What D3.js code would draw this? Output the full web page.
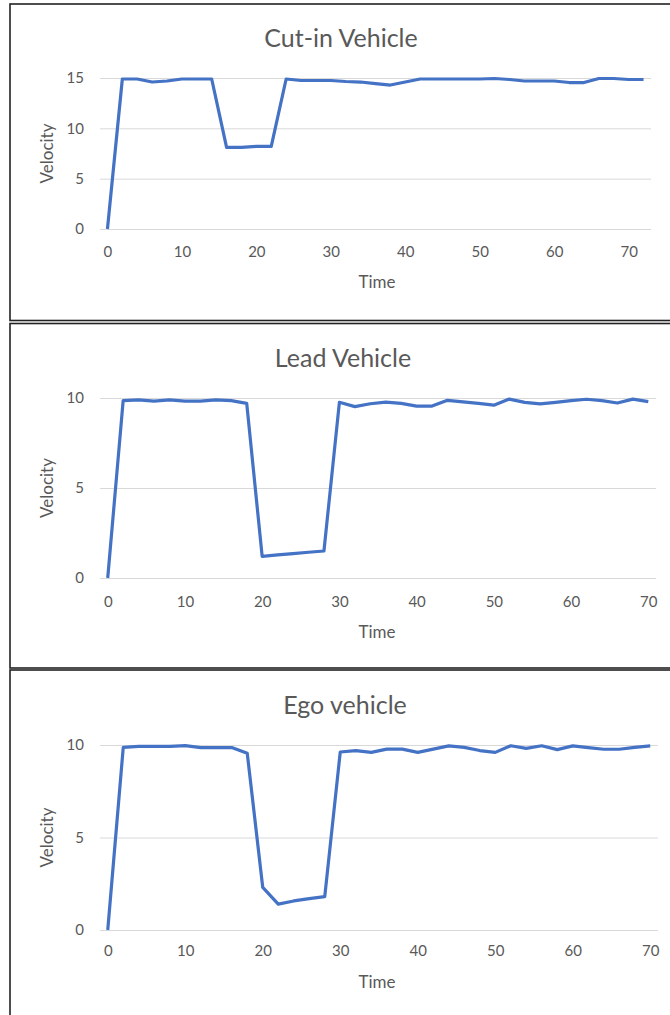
<!DOCTYPE html>
<html>
<head>
<meta charset="utf-8">
<script src="https://cdn.jsdelivr.net/npm/d3@7"></script>
<style>
  body { margin: 0; background: #fff; }
  svg text { font-family: Lato, "Open Sans", sans-serif; fill: #595959; }
</style>
</head>
<body>
<div id="my_dataviz"></div>
<script>
// time steps (s)
const timeCutIn = d3.range(0, 73, 2);   // 0..72
const timeLead = d3.range(0, 71, 2);    // 0..70
const timeEgo = d3.range(0, 71, 2);     // 0..70

// velocities
const cutInVelocity = [0, 14.9, 14.9, 14.6, 14.7, 14.9, 14.9, 14.9, 8.1, 8.1, 8.2, 8.2,
  14.9, 14.75, 14.75, 14.75, 14.65, 14.6, 14.45, 14.3, 14.6, 14.9, 14.9, 14.9, 14.9, 14.9,
  14.95, 14.85, 14.7, 14.7, 14.7, 14.55, 14.55, 14.95, 14.95, 14.85, 14.85];
const leadVelocity = [0, 9.85, 9.9, 9.83, 9.9, 9.83, 9.83, 9.9, 9.85, 9.7, 1.2, 1.28,
  1.35, 1.43, 1.5, 9.76, 9.52, 9.68, 9.77, 9.7, 9.55, 9.55, 9.87, 9.78, 9.7, 9.6,
  9.94, 9.76, 9.67, 9.76, 9.85, 9.93, 9.85, 9.72, 9.94, 9.8];
const egoVelocity = [0, 9.87, 9.93, 9.93, 9.93, 9.97, 9.86, 9.86, 9.86, 9.55, 2.3, 1.4,
  1.57, 1.7, 1.8, 9.62, 9.7, 9.6, 9.78, 9.78, 9.6, 9.78, 9.95, 9.87, 9.7, 9.6,
  9.96, 9.82, 9.96, 9.75, 9.95, 9.86, 9.77, 9.77, 9.87, 9.95];

const titles = ["Cut-in Vehicle", "Lead Vehicle", "Ego vehicle"];
const xTicks = [0, 10, 20, 30, 40, 50, 60, 70];
const yTicksCutIn = [0, 5, 10, 15];
const yTicksOther = [0, 5, 10];

// layout of each chart box on the page
const panels = [
  {title: titles[0], t: timeCutIn, v: cutInVelocity, xMax: 73, yMax: 15, yTicks: yTicksCutIn,
   box: [10, 4, 700, 316.5], plot: {left: 100, right: 651, top: 78, bottom: 229},
   titleX: 341, titleY: 47, tickPad: 17, timeY: 288},
  {title: titles[1], t: timeLead, v: leadVelocity, xMax: 71, yMax: 10, yTicks: yTicksOther,
   box: [10, 323.5, 700, 344.5], plot: {left: 100, right: 656, top: 398, bottom: 578},
   titleX: 343, titleY: 367, tickPad: 18, timeY: 638},
  {title: titles[2], t: timeEgo, v: egoVelocity, xMax: 71, yMax: 10, yTicks: yTicksOther,
   box: [10, 670, 700, 400], plot: {left: 100, right: 658, top: 745, bottom: 930},
   titleX: 345, titleY: 714, tickPad: 15, timeY: 988}
];

const svg = d3.select("#my_dataviz")
  .append("svg")
    .attr("width", 670)
    .attr("height", 1015);

panels.forEach(function(p) {
  // chart border
  svg.append("rect")
    .attr("x", p.box[0]).attr("y", p.box[1])
    .attr("width", p.box[2]).attr("height", p.box[3])
    .style("fill", "none")
    .style("stroke", "#222")
    .style("stroke-width", 1.6);

  const x = d3.scaleLinear().domain([-1, p.xMax]).range([p.plot.left, p.plot.right]);
  const y = d3.scaleLinear().domain([0, p.yMax]).range([p.plot.bottom, p.plot.top]);

  // gridlines + y labels
  const yAxis = svg.append("g")
    .attr("transform", `translate(${p.plot.left},0)`)
    .call(d3.axisLeft(y).tickValues(p.yTicks)
      .tickSize(-(p.plot.right - p.plot.left)).tickPadding(16));
  yAxis.select(".domain").remove();
  yAxis.selectAll("line").style("stroke", "#d9d9d9");
  yAxis.selectAll("text").style("font-size", "15px");

  // x labels
  const xAxis = svg.append("g")
    .attr("transform", `translate(0,${p.plot.bottom})`)
    .call(d3.axisBottom(x).tickValues(xTicks).tickSize(0).tickPadding(p.tickPad));
  xAxis.select(".domain").remove();
  xAxis.selectAll("text").style("font-size", "15px");

  // the line
  const data = p.t.map(function(d, i) { return [d, p.v[i]]; });
  svg.append("path")
    .datum(data)
    .attr("d", d3.line().x(function(d) { return x(d[0]); }).y(function(d) { return y(d[1]); }))
    .style("fill", "none")
    .style("stroke", "#4472c4")
    .style("stroke-width", 3.2)
    .style("stroke-linejoin", "round");

  // title
  svg.append("text")
    .attr("x", p.titleX).attr("y", p.titleY)
    .style("text-anchor", "middle")
    .style("font-size", "25px")
    .text(p.title);

  // axis titles
  svg.append("text")
    .attr("x", 377).attr("y", p.timeY)
    .style("text-anchor", "middle")
    .style("font-size", "17px")
    .text("Time");

  svg.append("text")
    .attr("transform", `translate(53,${(p.plot.top + p.plot.bottom) / 2}) rotate(-90)`)
    .style("text-anchor", "middle")
    .style("font-size", "17px")
    .text("Velocity");
});
</script>
</body>
</html>
